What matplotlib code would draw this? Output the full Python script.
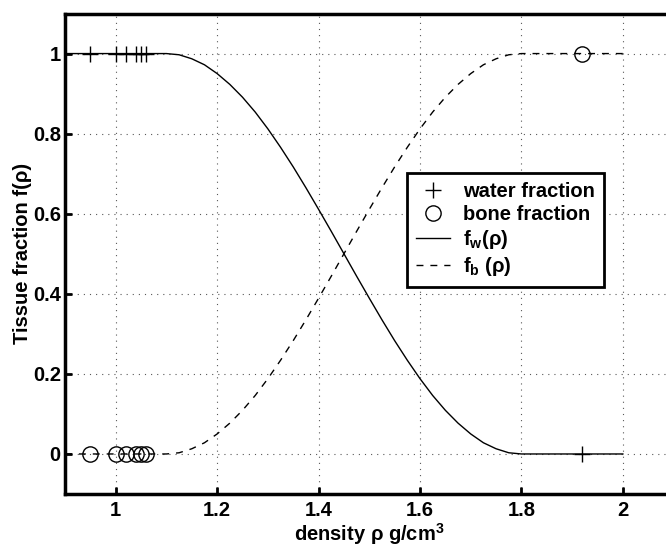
import matplotlib
matplotlib.use("Agg")
import matplotlib.pyplot as plt

plt.rcParams['font.family'] = ['Liberation Sans', 'DejaVu Sans']
plt.rcParams['font.weight'] = 'bold'
plt.rcParams['mathtext.fontset'] = 'custom'
plt.rcParams['mathtext.bf'] = 'Liberation Sans:bold'
plt.rcParams['mathtext.rm'] = 'Liberation Sans:bold'
plt.rcParams['mathtext.it'] = 'Liberation Sans:bold'

# sample data
water_x = [0.95, 1.0, 1.02, 1.04, 1.05, 1.06, 1.92]
water_y = [1, 1, 1, 1, 1, 1, 0]
bone_x = [0.95, 1.0, 1.02, 1.04, 1.05, 1.06, 1.92]
bone_y = [0, 0, 0, 0, 0, 0, 1]

# fitted curves
curve_x = [0.9, 1.0, 1.1, 1.125, 1.15, 1.175, 1.2, 1.225, 1.25, 1.275, 1.3,
           1.325, 1.35, 1.375, 1.4, 1.425, 1.45, 1.475, 1.5, 1.525, 1.55,
           1.575, 1.6, 1.625, 1.65, 1.675, 1.7, 1.725, 1.75, 1.775, 1.8,
           1.9, 2.0]
fw = [1.0, 1.0, 1.0, 0.997, 0.987, 0.972, 0.950, 0.923, 0.891, 0.854, 0.812,
      0.766, 0.717, 0.665, 0.611, 0.556, 0.500, 0.444, 0.389, 0.335, 0.283,
      0.234, 0.188, 0.146, 0.109, 0.077, 0.050, 0.028, 0.013, 0.003, 0.0,
      0.0, 0.0]
fb = [0.0, 0.0, 0.0, 0.003, 0.013, 0.028, 0.050, 0.077, 0.109, 0.146, 0.188,
      0.234, 0.283, 0.335, 0.389, 0.444, 0.500, 0.556, 0.611, 0.665, 0.717,
      0.766, 0.812, 0.854, 0.891, 0.923, 0.950, 0.972, 0.987, 0.997, 1.0,
      1.0, 1.0]

xticks = [1.0, 1.2, 1.4, 1.6, 1.8, 2.0]
xticklabels = ['1', '1.2', '1.4', '1.6', '1.8', '2']
yticks = [0, 0.2, 0.4, 0.6, 0.8, 1.0]
yticklabels = ['0', '0.2', '0.4', '0.6', '0.8', '1']

FS = 14.5

fig = plt.figure(figsize=(6.66, 5.5), dpi=100)
ax = fig.add_axes([0.0976, 0.1018, 0.9138, 0.8736])

ax.plot(water_x, water_y, linestyle='none', marker='+', markersize=11,
        markeredgewidth=1.0, color='black', label='water fraction', zorder=4)
ax.plot(bone_x, bone_y, linestyle='none', marker='o', markersize=11,
        markerfacecolor='none', markeredgewidth=1.0, color='black',
        label='bone fraction', zorder=4)
ax.plot(curve_x, fw, '-', color='black', linewidth=1.0,
        label=r'$\mathbf{f_w}$(ρ)', zorder=3)
ax.plot(curve_x, fb, '--', color='black', linewidth=1.0, dashes=(5, 5),
        label=r'$\mathbf{f_b}$ (ρ)', zorder=3)

ax.set_xlim(0.9, 2.1)
ax.set_ylim(-0.1, 1.1)
ax.set_xticks(xticks)
ax.set_xticklabels(xticklabels)
ax.set_yticks(yticks)
ax.set_yticklabels(yticklabels)
ax.tick_params(axis='both', direction='in', length=5, width=2, labelsize=FS)
ax.tick_params(axis='x', pad=5)
ax.tick_params(axis='y', pad=3)
for lab in ax.get_xticklabels() + ax.get_yticklabels():
    lab.set_fontweight('bold')
for s in ax.spines.values():
    s.set_linewidth(2.5)

ax.grid(True, linestyle=(0, (1, 4.5)), color='0.35', linewidth=0.8)
ax.set_axisbelow(True)

ax.set_xlabel('density ρ g/cm$^\\mathbf{3}$', fontsize=FS, fontweight='bold', labelpad=1)
ax.set_ylabel('Tissue fraction f(ρ)', fontsize=FS, fontweight='bold', labelpad=0.5)

leg = ax.legend(loc='upper left', bbox_to_anchor=(0.562, 0.668),
                borderaxespad=0, fancybox=False, framealpha=1,
                edgecolor='black', fontsize=FS, handlelength=1.7,
                labelspacing=0.2, borderpad=0.45, handletextpad=0.65)
leg.get_frame().set_linewidth(2.0)
for t in leg.get_texts():
    t.set_fontweight('bold')

fig.savefig('out.png', dpi=100)
